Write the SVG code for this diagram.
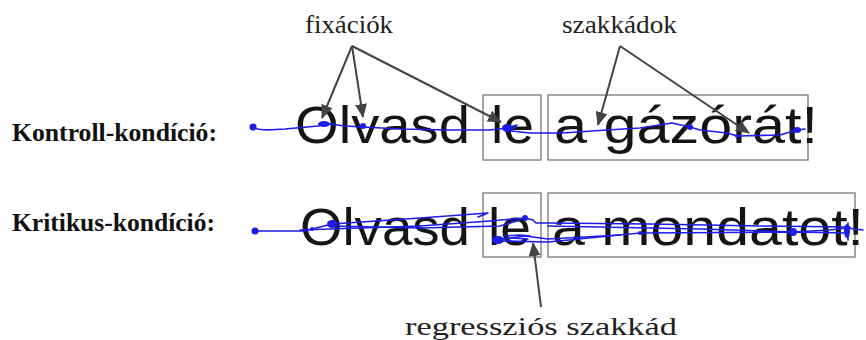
<svg xmlns="http://www.w3.org/2000/svg" width="866" height="340" viewBox="0 0 866 340">
<style>
.lbl{font-family:"Liberation Serif","Times New Roman",serif;font-weight:bold;font-size:24.5px;fill:#111}
.ann{font-family:"Liberation Serif","Times New Roman",serif;font-size:26px;fill:#222}
.big{font-family:"Liberation Sans",Arial,sans-serif;font-size:52px;fill:#151515}
.box{fill:none;stroke:#777;stroke-width:1.3}
.trace{fill:none;stroke:#1c1ce8;stroke-width:1.6;stroke-linejoin:round;stroke-linecap:round}
.fix{fill:#1c1ce8}
.arr{fill:none;stroke:#444;stroke-width:2;marker-end:url(#ah)}
</style>
<defs>
<marker id="ah" markerUnits="userSpaceOnUse" markerWidth="14" markerHeight="12" refX="13" refY="6" orient="auto">
<path d="M0,0 L14,6 L0,12 Z" fill="#444"/>
</marker>
</defs>
<rect width="866" height="340" fill="#fff"/>

<g id="label-kontroll"><text class="lbl" x="12" y="141" textLength="205" lengthAdjust="spacingAndGlyphs">Kontroll-kondíció:</text></g>
<g id="label-kritikus"><text class="lbl" x="12" y="231" textLength="203" lengthAdjust="spacingAndGlyphs">Kritikus-kondíció:</text></g>

<g id="row1">
<rect class="box" x="483" y="95" width="58" height="65"/>
<rect class="box" x="548" y="95" width="260" height="65"/>
<text class="big" x="295" y="143" textLength="175" lengthAdjust="spacingAndGlyphs">Olvasd</text>
<text class="big" x="491" y="143" textLength="43" lengthAdjust="spacingAndGlyphs">le</text>
<text class="big" x="554" y="143" textLength="264" lengthAdjust="spacingAndGlyphs">a gázórát!</text>
</g>

<g id="row2">
<rect class="box" x="483" y="193" width="58" height="64"/>
<rect class="box" x="548" y="193" width="307" height="64"/>
<text class="big" x="300" y="245" textLength="170" lengthAdjust="spacingAndGlyphs">Olvasd</text>
<text class="big" x="488" y="245" textLength="43" lengthAdjust="spacingAndGlyphs">le</text>
<text class="big" x="552" y="245" textLength="312" lengthAdjust="spacingAndGlyphs">a mondatot!</text>
</g>

<g id="trace1">
<path class="trace" d="M253,127 C260,131 268,130 285,129 L318,126 L330,124 L345,126 L363,127 L400,129 L450,130 L490,130 L507,128 L517,125 L511,131 L530,133 L562,133 L607,130 L640,128 L672,123 L690,127 L700,130 L727,133 L737,136 L780,135 L797,130 L805,129"/>
<circle class="fix" cx="253" cy="127" r="3.5"/>
<ellipse class="fix" cx="324" cy="124" rx="6" ry="3"/>
<circle class="fix" cx="363" cy="126" r="3"/>
<ellipse class="fix" cx="507" cy="128" rx="5" ry="4"/>
<circle class="fix" cx="690" cy="127" r="3"/>
<circle class="fix" cx="737" cy="136" r="2"/>
<ellipse class="fix" cx="797" cy="130" rx="4" ry="3"/>
</g>

<g id="trace2">
<path class="trace" d="M255,231 H305 L312,229 L332,224 L420,218 L488,213 L478,217"/>
<path class="trace" d="M300,230 L420,226 L490,221 L525,218 L533,220 L536,223 L548,223 L650,224 L760,226 L850,227"/>
<path class="trace" d="M332,226 L420,228 L500,226 L520,220"/>
<path class="trace" d="M548,226 L700,229 L793,232 L830,230 L847,228 L863,230"/>
<path class="trace" d="M493,238 L503,241 L548,242 L640,233 L793,232 L847,233"/>
<path class="trace" d="M496,240 L525,236 L548,239 L620,235"/>
<path class="trace" d="M505,236 L520,235 L530,236 M510,238 L528,239 M848,223 L848,240"/>
<circle class="fix" cx="255" cy="231" r="3.5"/>
<circle class="fix" cx="312" cy="229" r="2"/>
<ellipse class="fix" cx="332" cy="224" rx="5" ry="4"/>
<circle class="fix" cx="525" cy="218" r="3"/>
<ellipse class="fix" cx="498" cy="240" rx="6" ry="4"/>
<circle class="fix" cx="640" cy="233" r="2"/>
<circle class="fix" cx="793" cy="232" r="4"/>
<ellipse class="fix" cx="847" cy="231" rx="3" ry="7"/>
</g>

<g id="annot-fixaciok"><text class="ann" x="305" y="33" textLength="88" lengthAdjust="spacingAndGlyphs">fixációk</text></g>
<g id="annot-szakkadok"><text class="ann" x="562" y="33" textLength="115" lengthAdjust="spacingAndGlyphs">szakkádok</text></g>
<g id="annot-regresszios"><text class="ann" x="405" y="335" textLength="272" lengthAdjust="spacingAndGlyphs">regressziós szakkád</text></g>

<g id="connectors">
<path class="arr" d="M352,46 L322,118"/>
<path class="arr" d="M352,46 L363,117"/>
<path class="arr" d="M352,46 L501,122"/>
<path class="arr" d="M620,46 L598,125"/>
<path class="arr" d="M620,46 L749,133"/>
<path class="arr" d="M541,307 L533,243"/>
</g>
</svg>
